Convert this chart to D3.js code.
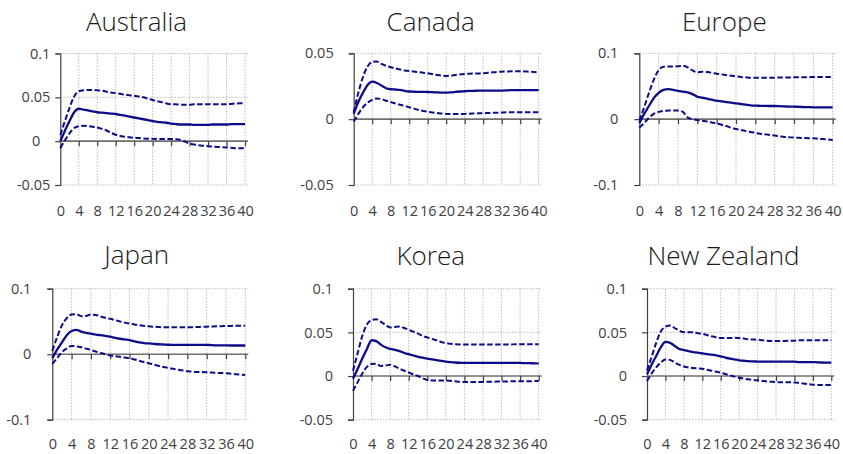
<!DOCTYPE html>
<html>
<head>
<meta charset="utf-8">
<script src="https://cdn.jsdelivr.net/npm/d3@7"></script>
<style>
  html, body { margin: 0; padding: 0; background: #ffffff; }
  svg { display: block; }
</style>
</head>
<body>
<script>
// ---------------- DATA ----------------
const countries = ["Australia", "Canada", "Europe", "Japan", "Korea", "New Zealand"];
const horizons = d3.range(0, 41); // quarters 0..40
const xTickLabels = [0, 4, 8, 12, 16, 20, 24, 28, 32, 36, 40];
const yDomains = [[-0.05, 0.1], [-0.05, 0.05], [-0.1, 0.1], [-0.1, 0.1], [-0.05, 0.1], [-0.05, 0.1]];
const yTickValues = [[-0.05, 0, 0.05, 0.1], [-0.05, 0, 0.05], [-0.1, 0, 0.1], [-0.1, 0, 0.1], [-0.05, 0, 0.05, 0.1], [-0.05, 0, 0.05, 0.1]];

const ausMid = [0.000,0.012,0.023,0.033,0.037,0.036,0.035,0.034,0.033,0.0325,0.032,0.0315,0.031,0.030,0.029,0.028,0.027,0.026,0.025,0.024,0.023,0.022,0.0215,0.021,0.020,0.0195,0.019,0.019,0.019,0.0185,0.0185,0.0185,0.0185,0.019,0.019,0.019,0.019,0.0195,0.0195,0.0195,0.0195];
const ausUpper = [0.007,0.023,0.038,0.051,0.057,0.058,0.0585,0.0585,0.058,0.0575,0.0565,0.0555,0.0548,0.054,0.053,0.0525,0.0518,0.051,0.050,0.0485,0.047,0.0455,0.0445,0.043,0.0422,0.042,0.0418,0.0415,0.0415,0.042,0.042,0.0422,0.0422,0.042,0.042,0.042,0.042,0.0425,0.043,0.0433,0.0434];
const ausLower = [-0.008,0.001,0.009,0.015,0.017,0.0175,0.0172,0.0165,0.0155,0.014,0.0122,0.0095,0.0073,0.006,0.005,0.0044,0.0039,0.0035,0.003,0.0028,0.0027,0.0025,0.0024,0.0024,0.0024,0.0022,0.0015,-0.0005,-0.0025,-0.0038,-0.0047,-0.0053,-0.0058,-0.0062,-0.0066,-0.0069,-0.0072,-0.0076,-0.008,-0.0082,-0.0082];

const canMid = [0.004,0.013,0.020,0.026,0.0285,0.0275,0.0255,0.0235,0.0227,0.0225,0.0222,0.0215,0.021,0.0208,0.0207,0.0207,0.0206,0.0205,0.0203,0.0202,0.0202,0.0204,0.0207,0.021,0.0212,0.0214,0.0215,0.0216,0.0217,0.0217,0.0217,0.0217,0.0217,0.0218,0.022,0.022,0.022,0.022,0.022,0.022,0.022];
const canUpper = [0.005,0.020,0.032,0.040,0.0435,0.0437,0.042,0.0405,0.0394,0.0385,0.0377,0.037,0.0366,0.0362,0.0357,0.0352,0.0348,0.0342,0.0336,0.0331,0.0328,0.033,0.0335,0.034,0.0343,0.0345,0.0346,0.0347,0.0348,0.0352,0.0356,0.0359,0.036,0.0362,0.0363,0.0364,0.0364,0.0362,0.036,0.0358,0.0356];
const canLower = [-0.002,0.004,0.009,0.0125,0.0146,0.0157,0.0152,0.014,0.0129,0.0119,0.0109,0.010,0.0091,0.008,0.007,0.0062,0.0056,0.0051,0.0047,0.0043,0.004,0.0039,0.0039,0.004,0.004,0.0041,0.0043,0.0044,0.0045,0.0047,0.0048,0.0049,0.005,0.0052,0.0052,0.0052,0.0052,0.0052,0.0052,0.0052,0.0052];

const eurMid = [-0.006,0.008,0.020,0.032,0.040,0.0445,0.0455,0.0445,0.043,0.0418,0.0406,0.038,0.034,0.0325,0.031,0.0295,0.028,0.027,0.026,0.025,0.024,0.023,0.022,0.021,0.0205,0.0203,0.0201,0.020,0.020,0.0197,0.0193,0.019,0.019,0.0187,0.0184,0.0182,0.018,0.018,0.0179,0.0178,0.0178];
const eurUpper = [-0.002,0.018,0.040,0.060,0.0745,0.0795,0.080,0.080,0.0802,0.081,0.0787,0.074,0.071,0.072,0.0715,0.0705,0.069,0.068,0.067,0.066,0.065,0.064,0.0635,0.063,0.0627,0.0628,0.063,0.063,0.063,0.0632,0.0633,0.0634,0.0635,0.0636,0.0637,0.0638,0.0639,0.064,0.064,0.064,0.064];
const eurLower = [-0.013,-0.006,0.002,0.008,0.011,0.0125,0.013,0.0132,0.0132,0.011,0.0026,0.000,-0.0015,-0.0025,-0.0035,-0.005,-0.0065,-0.0085,-0.0105,-0.013,-0.015,-0.0165,-0.018,-0.0195,-0.021,-0.022,-0.023,-0.024,-0.025,-0.026,-0.027,-0.0275,-0.028,-0.0283,-0.0287,-0.029,-0.029,-0.0297,-0.0303,-0.031,-0.0315];

const jpnMid = [-0.006,0.007,0.018,0.029,0.0355,0.037,0.0345,0.0325,0.0313,0.030,0.029,0.028,0.0267,0.025,0.0236,0.0225,0.0215,0.0195,0.018,0.017,0.0164,0.0158,0.0152,0.0148,0.0144,0.0143,0.0143,0.0143,0.0143,0.0143,0.0143,0.0143,0.0143,0.0138,0.0136,0.0135,0.0134,0.0133,0.0133,0.0133,0.0133];
const jpnUpper = [0.005,0.026,0.044,0.055,0.0605,0.061,0.058,0.0585,0.0605,0.060,0.0575,0.0555,0.054,0.052,0.050,0.0482,0.0467,0.0455,0.0442,0.0432,0.0426,0.042,0.0415,0.0412,0.041,0.041,0.041,0.041,0.041,0.0413,0.0415,0.0418,0.042,0.0423,0.0426,0.0428,0.043,0.0432,0.0434,0.0435,0.0436];
const jpnLower = [-0.0148,-0.006,0.003,0.009,0.0125,0.012,0.0105,0.0085,0.0065,0.004,0.002,0.000,-0.002,-0.003,-0.004,-0.005,-0.006,-0.008,-0.010,-0.012,-0.0138,-0.0158,-0.0177,-0.0196,-0.021,-0.0222,-0.0235,-0.0248,-0.026,-0.0265,-0.027,-0.0273,-0.0277,-0.028,-0.0285,-0.0288,-0.029,-0.0297,-0.0305,-0.0312,-0.0318];

const korMid = [-0.003,0.008,0.020,0.031,0.041,0.040,0.036,0.033,0.031,0.030,0.0285,0.0265,0.025,0.0235,0.022,0.021,0.020,0.0191,0.0182,0.0174,0.0166,0.016,0.0155,0.0152,0.015,0.015,0.015,0.015,0.015,0.015,0.015,0.015,0.015,0.015,0.015,0.015,0.015,0.0148,0.0147,0.0146,0.0145];
const korUpper = [0.006,0.026,0.046,0.059,0.064,0.065,0.062,0.0585,0.0556,0.0562,0.0568,0.055,0.053,0.0508,0.0485,0.046,0.0442,0.0425,0.041,0.039,0.0377,0.037,0.0365,0.0362,0.036,0.036,0.036,0.036,0.036,0.036,0.036,0.036,0.0361,0.0362,0.0362,0.0363,0.0363,0.0364,0.0364,0.0365,0.0365];
const korLower = [-0.017,-0.007,0.003,0.0105,0.0138,0.014,0.0115,0.012,0.013,0.011,0.0085,0.006,0.004,0.002,0.000,-0.0025,-0.0045,-0.005,-0.005,-0.005,-0.005,-0.0055,-0.006,-0.0065,-0.0068,-0.0068,-0.0068,-0.0067,-0.0067,-0.0066,-0.0065,-0.0064,-0.0063,-0.0062,-0.0061,-0.006,-0.006,-0.0059,-0.0059,-0.0058,-0.0058];

const nzlMid = [0.002,0.013,0.023,0.033,0.039,0.038,0.0345,0.031,0.0298,0.0285,0.0275,0.0268,0.026,0.0252,0.0245,0.0236,0.0225,0.0212,0.020,0.019,0.018,0.0175,0.017,0.0167,0.0166,0.0165,0.0165,0.0165,0.0165,0.0165,0.0165,0.0165,0.0165,0.016,0.016,0.016,0.016,0.0157,0.0155,0.0154,0.0153];
const nzlUpper = [0.0065,0.022,0.038,0.051,0.0565,0.058,0.055,0.052,0.050,0.050,0.050,0.049,0.0485,0.047,0.0455,0.0443,0.0435,0.0435,0.0435,0.0437,0.0435,0.043,0.042,0.0418,0.0416,0.041,0.0405,0.0402,0.040,0.040,0.0402,0.0404,0.0405,0.041,0.041,0.041,0.041,0.041,0.041,0.041,0.041];
const nzlLower = [-0.0057,0.003,0.010,0.0155,0.019,0.0185,0.0155,0.0128,0.011,0.0098,0.0092,0.0088,0.0084,0.0073,0.0061,0.005,0.0038,0.0023,0.0008,-0.0007,-0.002,-0.0029,-0.0038,-0.0045,-0.005,-0.0056,-0.0062,-0.0066,-0.0069,-0.0071,-0.0072,-0.0072,-0.0073,-0.0078,-0.0085,-0.0093,-0.0099,-0.0102,-0.0103,-0.0103,-0.0103];

const midSeries = [ausMid, canMid, eurMid, jpnMid, korMid, nzlMid];
const upperSeries = [ausUpper, canUpper, eurUpper, jpnUpper, korUpper, nzlUpper];
const lowerSeries = [ausLower, canLower, eurLower, jpnLower, korLower, nzlLower];

// ---------------- LAYOUT / STYLE ----------------
const layout = [
  { left: 60.3,  x40: 245.0, top: 53.5,  bottom: 185.0, titleX: 136.5, titleY: 30.7,  labelY: 216,   gap: 10, zeroGap: 20 },
  { left: 353.7, x40: 538.7, top: 53.3,  bottom: 185.0, titleX: 430.7, titleY: 31.0,  labelY: 216,   gap: 20, zeroGap: 20 },
  { left: 639.3, x40: 832.7, top: 53.3,  bottom: 185.0, titleX: 724.3, titleY: 31.0,  labelY: 216,   gap: 21, zeroGap: 21 },
  { left: 52.3,  x40: 245.3, top: 288.7, bottom: 419.7, titleX: 136.7, titleY: 264.3, labelY: 449.3, gap: 21, zeroGap: 21 },
  { left: 353.0, x40: 538.7, top: 288.7, bottom: 419.7, titleX: 430.7, titleY: 264.7, labelY: 449.3, gap: 20, zeroGap: 20 },
  { left: 647.0, x40: 831.3, top: 288.7, bottom: 419.7, titleX: 723.5, titleY: 264.7, labelY: 449.3, gap: 20, zeroGap: 20 }
];
const lineColor = "#0c0c8a";
const gridColor = "#bdbdbd";
const axisColor = "#404040";
const textColor = "#404040";
const tickFont = "'Open Sans', 'Noto Sans', sans-serif";

const svg = d3.select("body").append("svg")
  .attr("width", 843).attr("height", 454)
  .attr("viewBox", "0 0 843 454");

countries.forEach((name, i) => {
  const L = layout[i];
  const x = d3.scaleLinear().domain([0, 40]).range([L.left, L.x40]);
  const y = d3.scaleLinear().domain(yDomains[i]).range([L.bottom, L.top]);
  const right = L.x40 + 3;
  const g = svg.append("g").attr("class", "panel");

  // title
  g.append("text")
    .attr("x", L.titleX).attr("y", L.titleY)
    .attr("text-anchor", "middle")
    .attr("font-family", tickFont)
    .attr("font-size", 26)
    .attr("font-weight", 300)
    .attr("fill", "#1a1a1a")
    .text(name);

  // horizontal gridlines
  g.selectAll("line.hgrid")
    .data(yTickValues[i].filter(v => v !== 0))
    .enter().append("line")
    .attr("class", "hgrid")
    .attr("x1", L.left).attr("x2", right)
    .attr("y1", d => y(d)).attr("y2", d => y(d))
    .attr("stroke", gridColor).attr("stroke-width", 1)
    .attr("stroke-dasharray", "1.5,1.5");

  // vertical gridlines
  g.selectAll("line.vgrid")
    .data(xTickLabels.filter(t => t > 0))
    .enter().append("line")
    .attr("class", "vgrid")
    .attr("x1", d => x(d)).attr("x2", d => x(d))
    .attr("y1", L.top).attr("y2", L.bottom)
    .attr("stroke", gridColor).attr("stroke-width", 1)
    .attr("stroke-dasharray", "1.5,1.5");

  // y axis
  const yAxis = d3.axisLeft(y)
    .tickValues(yTickValues[i])
    .tickSize(5)
    .tickPadding(L.gap - 5)
    .tickFormat(d => String(d));
  const ya = g.append("g").attr("transform", `translate(${L.left},0)`).call(yAxis);
  ya.select(".domain").attr("stroke", axisColor).attr("stroke-width", 1.2);
  ya.selectAll(".tick line").attr("stroke", axisColor).attr("stroke-width", 1.2);
  ya.selectAll(".tick text")
    .attr("font-family", tickFont).attr("font-size", 14.5).attr("fill", textColor)
    .attr("x", d => -(d === 0 ? L.zeroGap : L.gap));

  // zero line with tick marks (x axis crossing at 0)
  const xAxisZero = d3.axisBottom(x)
    .tickValues(xTickLabels.filter(t => t > 0))
    .tickSize(5)
    .tickSizeOuter(0)
    .tickFormat("");
  const xz = g.append("g").attr("transform", `translate(0,${y(0)})`).call(xAxisZero);
  xz.select(".domain").attr("d", `M${L.left},0H${right}`)
    .attr("stroke", "#6e6e6e").attr("stroke-width", 1.6);
  xz.selectAll(".tick line").attr("stroke", axisColor).attr("stroke-width", 1.2);

  // x labels at bottom
  const xAxisLabels = d3.axisBottom(x)
    .tickValues(xTickLabels)
    .tickSize(0)
    .tickPadding(0)
    .tickFormat(d => String(d));
  const xl = g.append("g").attr("transform", `translate(0,${L.labelY})`).call(xAxisLabels);
  xl.select(".domain").remove();
  xl.selectAll(".tick text")
    .attr("font-family", tickFont).attr("font-size", 14.5).attr("fill", textColor)
    .attr("dy", 0).attr("y", 0);

  // lines
  const line = d3.line()
    .x((d, k) => x(horizons[k]))
    .y(d => y(d))
    .curve(d3.curveMonotoneX);

  g.append("path").datum(upperSeries[i])
    .attr("d", line).attr("fill", "none")
    .attr("stroke", lineColor).attr("stroke-width", 2)
    .attr("stroke-dasharray", "5.5,2.5");
  g.append("path").datum(lowerSeries[i])
    .attr("d", line).attr("fill", "none")
    .attr("stroke", lineColor).attr("stroke-width", 2)
    .attr("stroke-dasharray", "5.5,2.5");
  g.append("path").datum(midSeries[i])
    .attr("d", line).attr("fill", "none")
    .attr("stroke", lineColor).attr("stroke-width", 2.3);
});
</script>
</body>
</html>
